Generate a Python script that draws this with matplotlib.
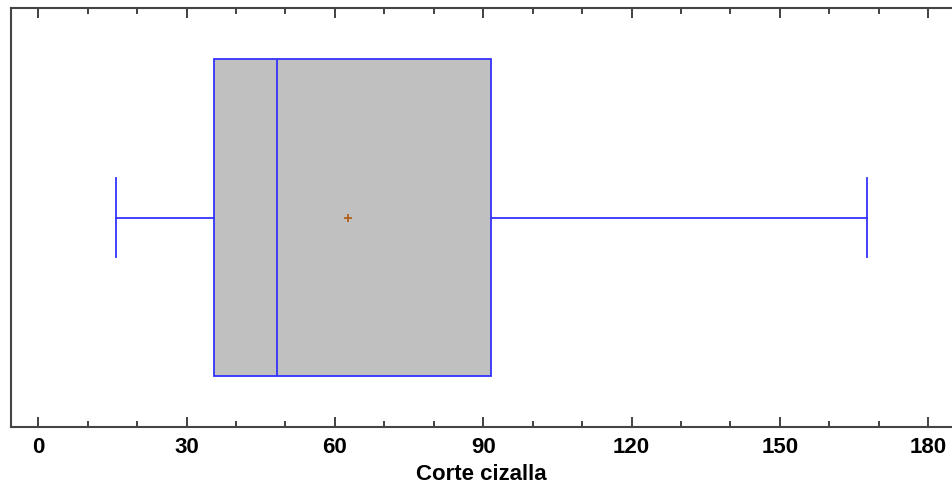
import matplotlib.pyplot as plt
from matplotlib.ticker import MultipleLocator

# Data
variable = "Corte cizalla"
whisker_low = 15.8
q1 = 35.6
median = 48.3
q3 = 91.5
whisker_high = 167.7
mean = 62.6

stats = [{'whislo': whisker_low, 'q1': q1, 'med': median, 'q3': q3,
          'whishi': whisker_high, 'mean': mean, 'fliers': [], 'label': ''}]

W, H = 952, 487
fig = plt.figure(figsize=(W / 100, H / 100), dpi=100)
ax = fig.add_axes([11 / W, (H - 427) / H, 1 - 11 / W, (427 - 8) / H])

blue = '#3333ff'
lw = 1.3
ax.bxp(stats, positions=[0.5], widths=0.757, vert=False, patch_artist=True,
       showmeans=True, capwidths=0.189,
       boxprops=dict(facecolor='#c0c0c0', edgecolor=blue, linewidth=lw),
       medianprops=dict(color=blue, linewidth=lw),
       whiskerprops=dict(color=blue, linewidth=lw),
       capprops=dict(color=blue, linewidth=lw),
       meanprops=dict(marker='+', markeredgecolor='#b05a10', markersize=6,
                      markeredgewidth=1.2))

ax.set_ylim(0, 1)
ax.set_xlim(-5.5, 184.8)
ax.set_yticks([])

ax.xaxis.set_major_locator(MultipleLocator(30))
ax.xaxis.set_minor_locator(MultipleLocator(10))
ax.tick_params(axis='x', which='major', direction='in', length=7, width=1.3,
               top=True, color='#333333', pad=7.5)
ax.tick_params(axis='x', which='minor', direction='in', length=4, width=1.3,
               top=True, color='#333333')
for lbl in ax.get_xticklabels():
    lbl.set_fontfamily('Liberation Sans')
    lbl.set_fontweight('bold')
    lbl.set_fontsize(16)

ax.spines['right'].set_visible(False)
for s in ['left', 'top', 'bottom']:
    ax.spines[s].set_linewidth(1.5)
    ax.spines[s].set_color('#444444')

ax.set_xlabel(variable, fontfamily='Liberation Sans', fontweight='bold',
              fontsize=16, labelpad=4)

fig.savefig('out.png', dpi=100)
